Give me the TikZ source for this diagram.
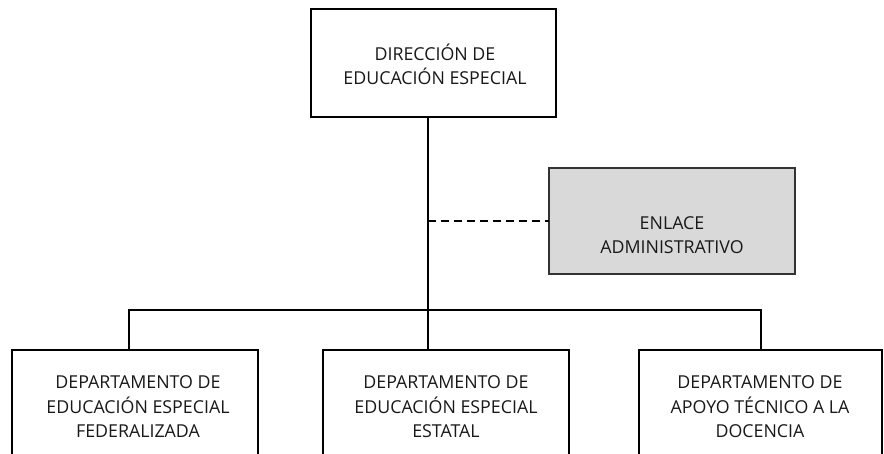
\documentclass[tikz,border=0pt]{standalone}
\usepackage{fontspec}
\setmainfont{Open Sans}
\begin{document}
\begin{tikzpicture}[x=1pt,y=-1pt]
\tikzset{
  box/.style={draw=black, line width=2pt, fill=white, inner sep=0, outer sep=0},
  greybox/.style={draw=black!80, line width=1.3pt, fill=black!15, inner sep=0, outer sep=0},
  conn/.style={line width=2pt},
  txt/.style={align=center, font=\fontsize{17.8}{24.5}\selectfont, inner sep=0, text=black!90}
}
\useasboundingbox (0,0) rectangle (884,454);
\clip (0,0) rectangle (884,454);
\node[box, minimum width=245pt, minimum height=108pt] (dir) at (433.5,63) {};
\node[greybox, minimum width=246pt, minimum height=106pt] (enl) at (672,221) {};
\node[box, minimum width=246pt, minimum height=120pt] (dep1) at (135,410) {};
\node[box, minimum width=246pt, minimum height=120pt] (dep2) at (445.5,410) {};
\node[box, minimum width=243pt, minimum height=120pt] (dep3) at (760.5,410) {};
\node[txt] (tdir) at (435,64.5) {DIRECCIÓN DE\\EDUCACIÓN ESPECIAL};
\node[txt] (tenl) at (672,235) {ENLACE\\ADMINISTRATIVO};
\node[txt] (tdep1) at (138,407) {DEPARTAMENTO DE\\EDUCACIÓN ESPECIAL\\FEDERALIZADA};
\node[txt] (tdep2) at (446,407) {DEPARTAMENTO DE\\EDUCACIÓN ESPECIAL\\ESTATAL};
\node[txt] (tdep3) at (760,407) {DEPARTAMENTO DE\\APOYO TÉCNICO A LA\\DOCENCIA};
\coordinate (j) at (428,310);
\coordinate (b1) at (129,310);
\coordinate (b3) at (761,310);
\draw[conn] (dir.south -| j) -- (j);
\draw[conn] (j) -- (dep2.north -| j);
\draw[conn] (dep1.north -| b1) -- (b1) -- (b3) -- (dep3.north -| b3);
\draw[conn, dash pattern=on 8pt off 5pt] (enl.west -| j) -- (enl.west);
\end{tikzpicture}
\end{document}
